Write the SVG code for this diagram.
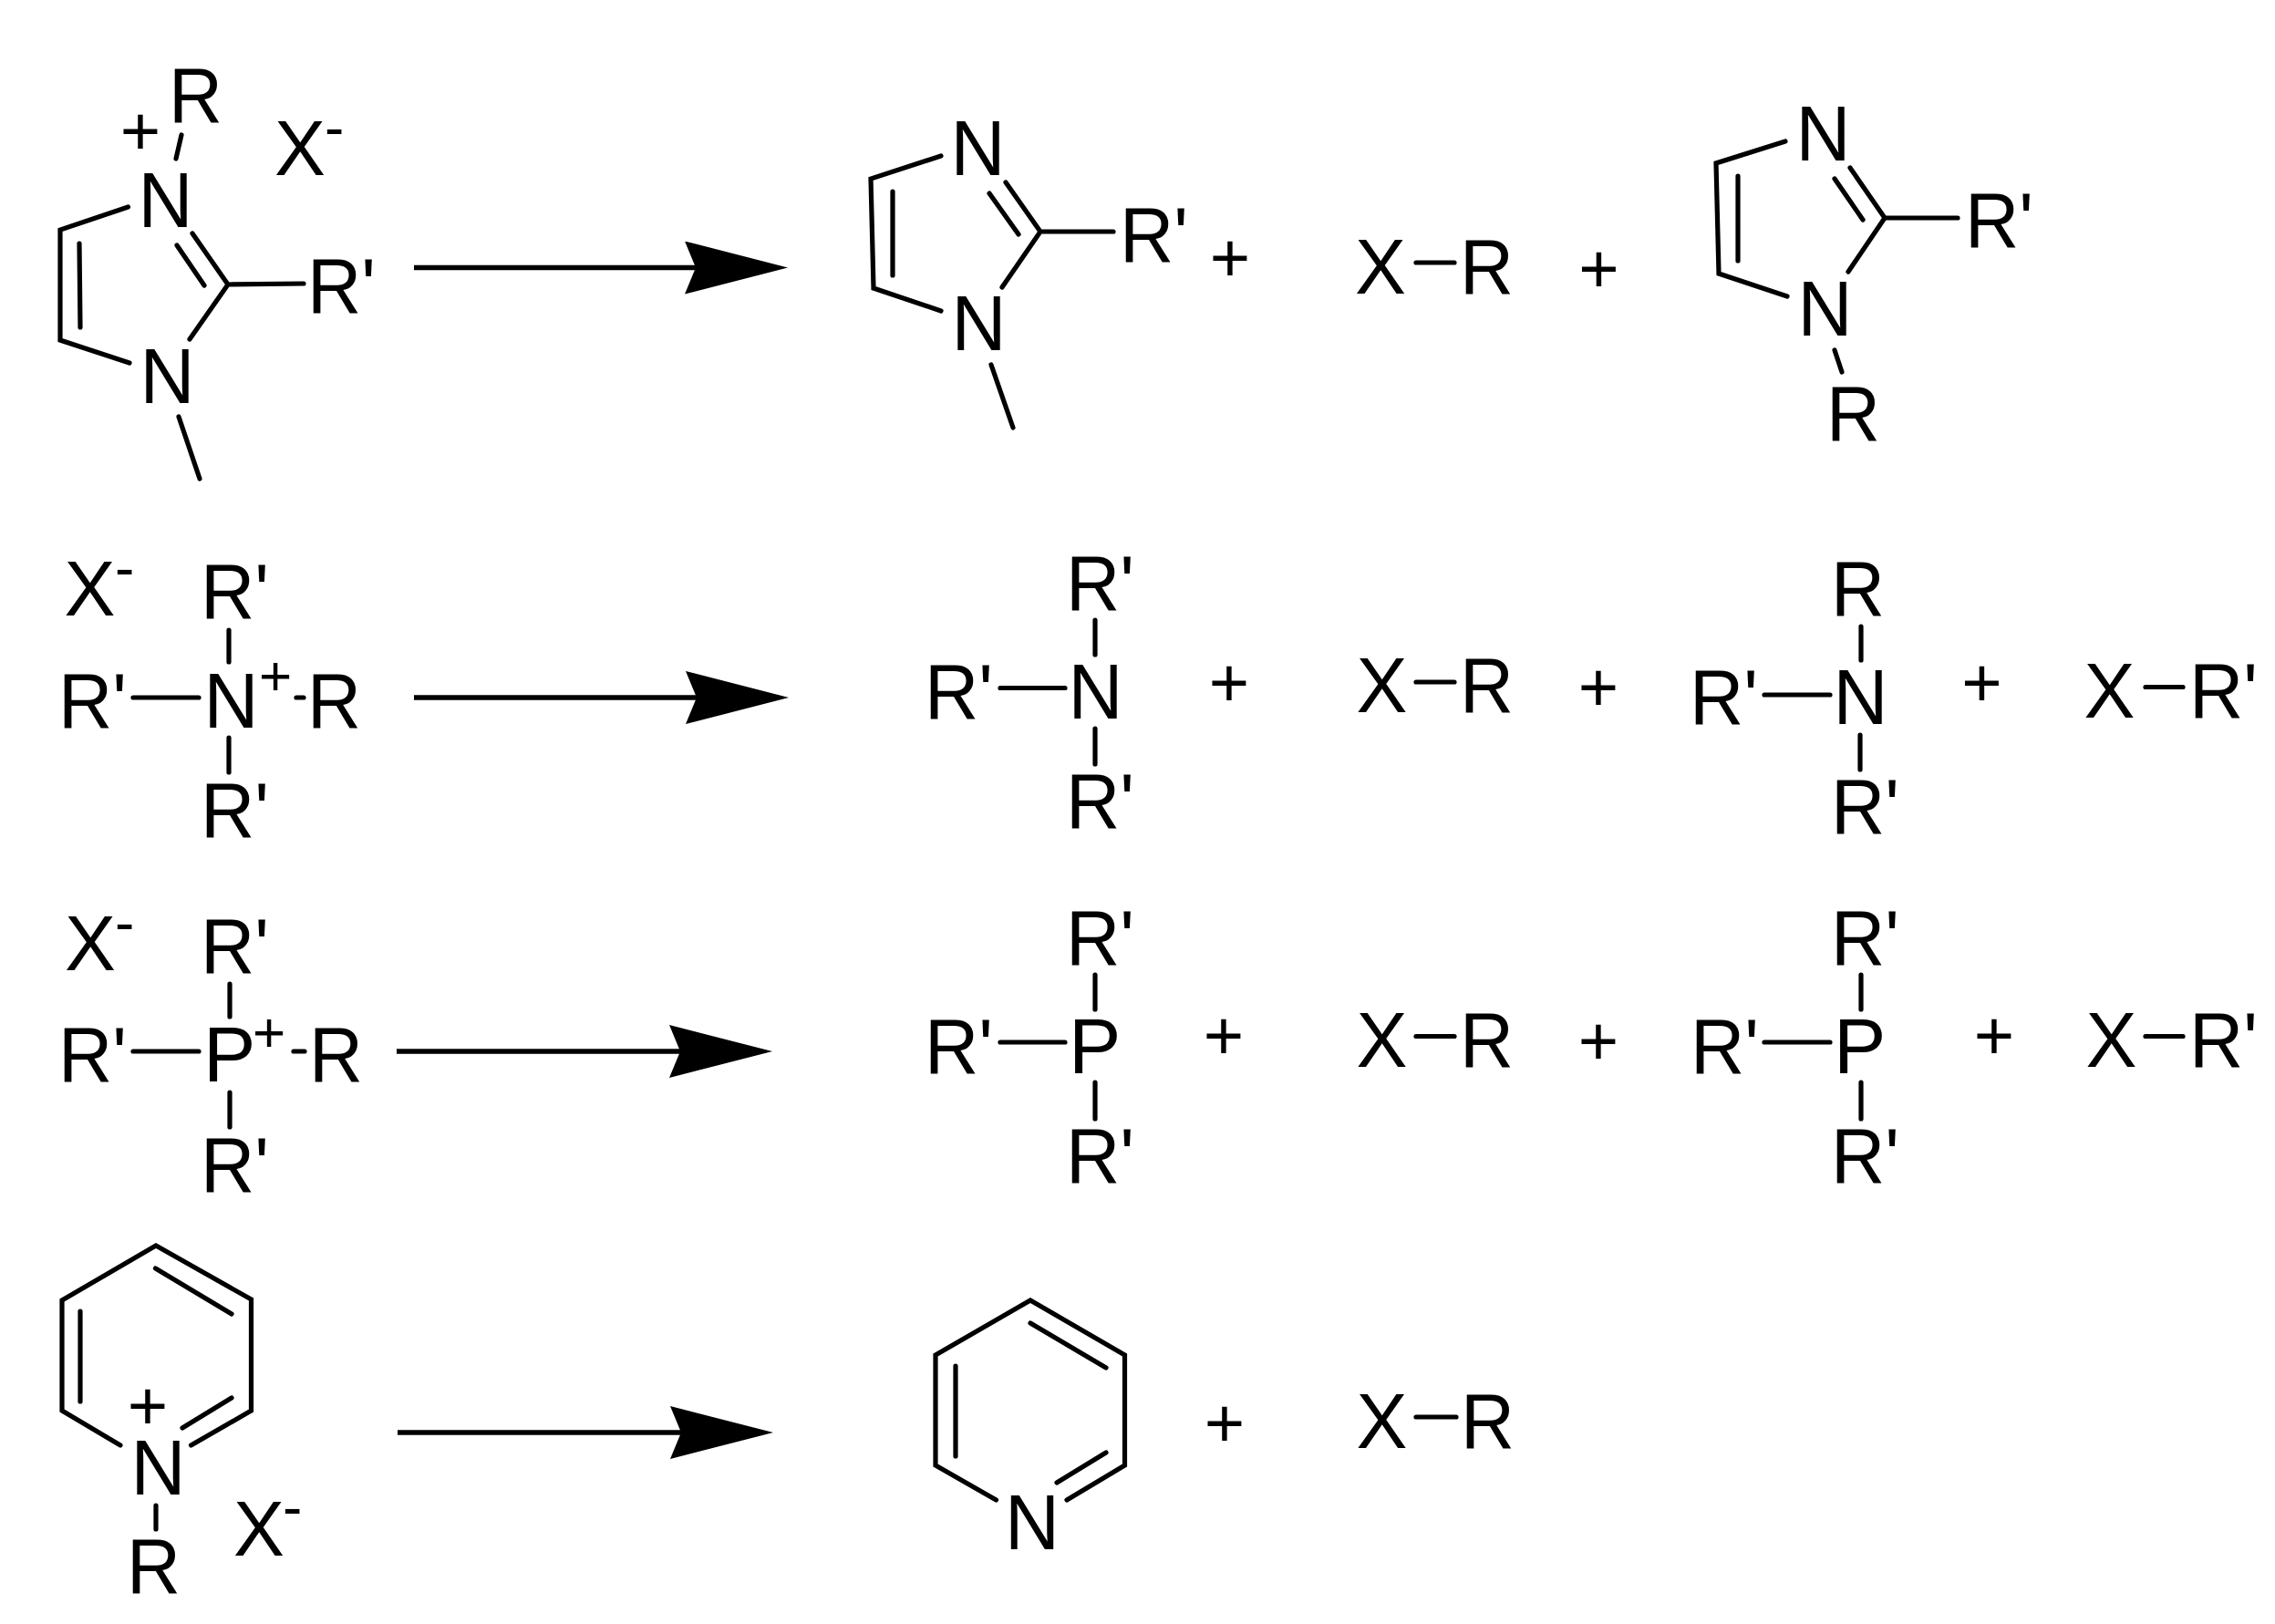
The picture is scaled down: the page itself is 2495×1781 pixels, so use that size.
<svg xmlns="http://www.w3.org/2000/svg" width="2495" height="1781" viewBox="0 0 2495 1781">
<style>
text{font-family:"Liberation Sans",Arial,sans-serif;fill:#000}
.a{font-size:86px}
.p{font-size:76px;text-anchor:middle}
.q{font-size:62px;text-anchor:middle}
.h{font-size:64px}
.b{fill:none;stroke:#000;stroke-width:5.2;stroke-linecap:round;stroke-linejoin:miter}
.c line{stroke:#000;stroke-width:5.5;marker-end:url(#head)}
</style>
<defs>
<marker id="head" markerUnits="userSpaceOnUse" markerWidth="113" markerHeight="58" viewBox="0 0 113 58" refX="12" refY="29" orient="auto">
<path d="M0 0L113 29L0 58L12 29Z" fill="#000"/>
</marker>
</defs>
<rect width="2495" height="1781" fill="#fff"/>
<g id="connectors" class="c">
<line x1="454" y1="293.500" x2="763" y2="293.500"/>
<line x1="454" y1="765" x2="764" y2="765"/>
<line x1="435" y1="1153" x2="746" y2="1153"/>
<line x1="436" y1="1571" x2="747" y2="1571"/>
</g>
<g id="imidazolium-reactant">
<path class="b" d="M199 148L193 174M140.500 227L66 252V373L142 398M87 267L88 359M211 256L250 312L208 372M194 269L224 313M250 312L333 311M196 457L219 525"/>
<text class="a" x="185" y="134" textLength="59" lengthAdjust="spacingAndGlyphs">R</text>
<text class="p" x="154" y="170">+</text>
<text class="a" x="301" y="192" textLength="56" lengthAdjust="spacingAndGlyphs">X</text>
<text class="h" x="356" y="162">-</text>
<text class="a" x="151.500" y="249" textLength="60" lengthAdjust="spacingAndGlyphs">N</text>
<text class="a" x="153.500" y="442" textLength="60" lengthAdjust="spacingAndGlyphs">N</text>
<text class="a" x="337" y="343" textLength="75" lengthAdjust="spacingAndGlyphs">R'</text>
</g>
<g id="imidazole-methyl">
<path class="b" d="M1032 171L955 196L958 316L1032 341M979 210V302M1103 200L1141 254L1099 315M1085 212L1117 257M1141 254H1221M1087 400L1111 469"/>
<text class="a" x="1042.500" y="192" textLength="60" lengthAdjust="spacingAndGlyphs">N</text>
<text class="a" x="1043.500" y="384" textLength="60" lengthAdjust="spacingAndGlyphs">N</text>
<text class="a" x="1228" y="287" textLength="75" lengthAdjust="spacingAndGlyphs">R'</text>
</g>
<text class="p" x="1349" y="309" id="plus-1a">+</text>
<g id="xr-1">
<text class="a" x="1486" y="322" textLength="56" lengthAdjust="spacingAndGlyphs">X</text>
<path class="b" d="M1553 288H1595"/>
<text class="a" x="1601" y="322" textLength="59" lengthAdjust="spacingAndGlyphs">R</text>
</g>
<text class="p" x="1753.500" y="321" id="plus-1b">+</text>
<g id="imidazole-r">
<path class="b" d="M1958 155L1882 179L1885 300L1960 325M1906 193V286M2029 184L2067 239L2027 298M2012 196L2043 241M2067 239H2147M2012 384L2020 408"/>
<text class="a" x="1969.500" y="176" textLength="60" lengthAdjust="spacingAndGlyphs">N</text>
<text class="a" x="1971.500" y="368" textLength="60" lengthAdjust="spacingAndGlyphs">N</text>
<text class="a" x="2155" y="271" textLength="75" lengthAdjust="spacingAndGlyphs">R'</text>
<text class="a" x="2003" y="483" textLength="59" lengthAdjust="spacingAndGlyphs">R</text>
</g>
<g id="ammonium-reactant">
<text class="a" x="70.500" y="674.500" textLength="56" lengthAdjust="spacingAndGlyphs">X</text>
<text class="h" x="126" y="645">-</text>
<text class="a" x="220" y="678" textLength="75" lengthAdjust="spacingAndGlyphs">R'</text>
<path class="b" d="M251 691V726M146 765H218M251 809V847M325 765H333"/>
<text class="a" x="64" y="798" textLength="75" lengthAdjust="spacingAndGlyphs">R'</text>
<text class="a" x="223.500" y="798" textLength="60" lengthAdjust="spacingAndGlyphs">N</text>
<text class="q" x="302" y="762">+</text>
<text class="a" x="337" y="798" textLength="59" lengthAdjust="spacingAndGlyphs">R</text>
<text class="a" x="220" y="918" textLength="75" lengthAdjust="spacingAndGlyphs">R'</text>
</g>
<g id="amine-1">
<text class="a" x="1169" y="669" textLength="75" lengthAdjust="spacingAndGlyphs">R'</text>
<path class="b" d="M1201 680V718M1097 754.500H1168M1201 799V838"/>
<text class="a" x="1014" y="787.500" textLength="75" lengthAdjust="spacingAndGlyphs">R'</text>
<text class="a" x="1171.500" y="787.500" textLength="60" lengthAdjust="spacingAndGlyphs">N</text>
<text class="a" x="1169" y="908" textLength="75" lengthAdjust="spacingAndGlyphs">R'</text>
</g>
<text class="p" x="1348" y="775" id="plus-2a">+</text>
<g id="xr-2">
<text class="a" x="1487.500" y="781" textLength="56" lengthAdjust="spacingAndGlyphs">X</text>
<path class="b" d="M1553 748H1595"/>
<text class="a" x="1601" y="781" textLength="59" lengthAdjust="spacingAndGlyphs">R</text>
</g>
<text class="p" x="1753" y="780" id="plus-2b">+</text>
<g id="amine-2">
<text class="a" x="2008" y="674.500" textLength="59" lengthAdjust="spacingAndGlyphs">R</text>
<path class="b" d="M2041 687V724M1935 762H2007M2040 806V844"/>
<text class="a" x="1853" y="794" textLength="75" lengthAdjust="spacingAndGlyphs">R'</text>
<text class="a" x="2010.500" y="794" textLength="60" lengthAdjust="spacingAndGlyphs">N</text>
<text class="a" x="2008" y="913.500" textLength="75" lengthAdjust="spacingAndGlyphs">R'</text>
</g>
<text class="p" x="2173.500" y="775" id="plus-2c">+</text>
<g id="xr-prime-2">
<text class="a" x="2285.500" y="786.500" textLength="56" lengthAdjust="spacingAndGlyphs">X</text>
<path class="b" d="M2353 753.500H2394"/>
<text class="a" x="2401" y="786.500" textLength="75" lengthAdjust="spacingAndGlyphs">R'</text>
</g>
<g id="phosphonium-reactant">
<text class="a" x="71" y="1064" textLength="56" lengthAdjust="spacingAndGlyphs">X</text>
<text class="h" x="126" y="1034">-</text>
<text class="a" x="220" y="1067" textLength="75" lengthAdjust="spacingAndGlyphs">R'</text>
<path class="b" d="M252 1079V1115M146 1153H218M252 1198V1236M322 1153H334"/>
<text class="a" x="64" y="1186" textLength="75" lengthAdjust="spacingAndGlyphs">R'</text>
<text class="a" x="223" y="1186">P</text>
<text class="q" x="295" y="1153">+</text>
<text class="a" x="339" y="1186" textLength="59" lengthAdjust="spacingAndGlyphs">R</text>
<text class="a" x="220" y="1307" textLength="75" lengthAdjust="spacingAndGlyphs">R'</text>
</g>
<g id="phosphine-1">
<text class="a" x="1169" y="1058" textLength="75" lengthAdjust="spacingAndGlyphs">R'</text>
<path class="b" d="M1201 1069V1107M1097 1143H1168M1201 1187V1227"/>
<text class="a" x="1014" y="1176.700" textLength="75" lengthAdjust="spacingAndGlyphs">R'</text>
<text class="a" x="1172" y="1176.700">P</text>
<text class="a" x="1169" y="1296.500" textLength="75" lengthAdjust="spacingAndGlyphs">R'</text>
</g>
<text class="p" x="1342" y="1162" id="plus-3a">+</text>
<g id="xr-3">
<text class="a" x="1487.500" y="1170" textLength="56" lengthAdjust="spacingAndGlyphs">X</text>
<path class="b" d="M1553 1136.500H1595"/>
<text class="a" x="1601" y="1170" textLength="59" lengthAdjust="spacingAndGlyphs">R</text>
</g>
<text class="p" x="1753" y="1168" id="plus-3b">+</text>
<g id="phosphine-2">
<text class="a" x="2008" y="1058" textLength="75" lengthAdjust="spacingAndGlyphs">R'</text>
<path class="b" d="M2041 1069V1107M1935 1143H2007M2041 1187V1227"/>
<text class="a" x="1854" y="1176.700" textLength="75" lengthAdjust="spacingAndGlyphs">R'</text>
<text class="a" x="2011" y="1176.700">P</text>
<text class="a" x="2008" y="1296.500" textLength="75" lengthAdjust="spacingAndGlyphs">R'</text>
</g>
<text class="p" x="2187" y="1162" id="plus-3c">+</text>
<g id="xr-prime-3">
<text class="a" x="2287.500" y="1170" textLength="56" lengthAdjust="spacingAndGlyphs">X</text>
<path class="b" d="M2353 1136.500H2394"/>
<text class="a" x="2401" y="1170" textLength="75" lengthAdjust="spacingAndGlyphs">R'</text>
</g>
<g id="pyridinium-reactant">
<path class="b" d="M132 1585L68 1547V1426L171 1366L275.500 1425V1547L209.500 1585M88 1438V1537M170.500 1391L254 1441M254 1533L200 1566M171 1651V1677"/>
<text class="p" x="162" y="1568">+</text>
<text class="a" x="143.500" y="1639" textLength="60" lengthAdjust="spacingAndGlyphs">N</text>
<text class="a" x="139" y="1747" textLength="59" lengthAdjust="spacingAndGlyphs">R</text>
<text class="a" x="256" y="1706" textLength="56" lengthAdjust="spacingAndGlyphs">X</text>
<text class="h" x="310" y="1675">-</text>
</g>
<g id="pyridine">
<path class="b" d="M1092.500 1645L1026 1607V1486L1130 1426L1233.500 1486V1607L1170 1645M1048 1498V1597M1130 1451L1213 1500M1213 1593L1159 1626"/>
<text class="a" x="1102" y="1699" textLength="60" lengthAdjust="spacingAndGlyphs">N</text>
</g>
<text class="p" x="1343" y="1587" id="plus-4">+</text>
<g id="xr-4">
<text class="a" x="1487.500" y="1588" textLength="56" lengthAdjust="spacingAndGlyphs">X</text>
<path class="b" d="M1553 1554H1597"/>
<text class="a" x="1602" y="1588" textLength="59" lengthAdjust="spacingAndGlyphs">R</text>
</g>
</svg>
